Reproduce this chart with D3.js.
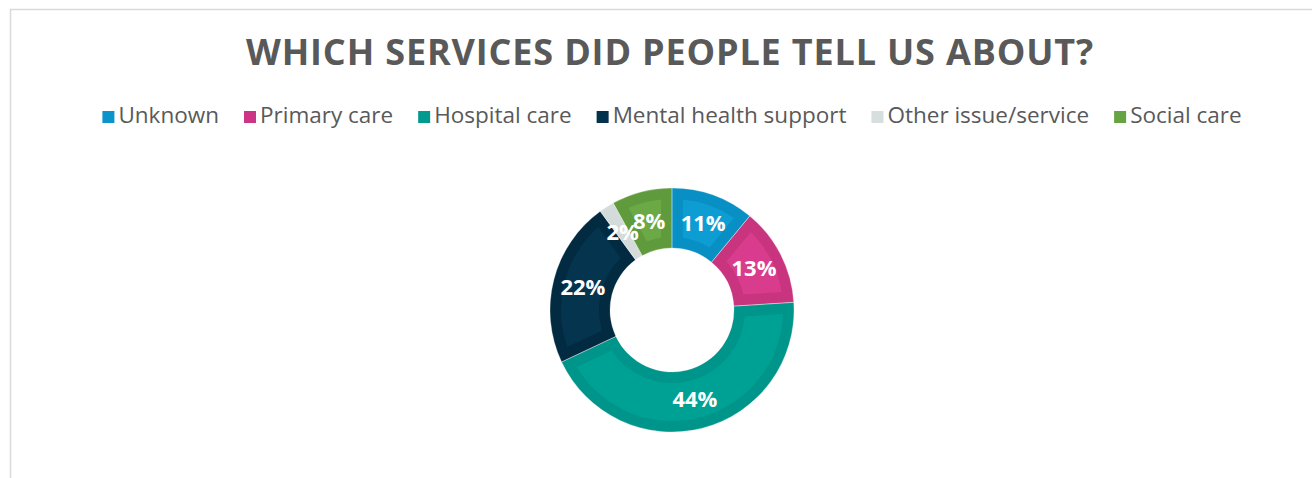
<!DOCTYPE html>
<html>
<head>
<meta charset="utf-8">
<script src="https://cdn.jsdelivr.net/npm/d3@7"></script>
<style>
  html, body { margin: 0; padding: 0; background: #ffffff; }
  svg { display: block; }
</style>
</head>
<body>
<svg id="chart" width="1312" height="478"></svg>
<script>
// Share of feedback by service type (percent)
const categories = ["Unknown", "Primary care", "Hospital care", "Mental health support", "Other issue/service", "Social care"];
const values = [11, 13, 44, 22, 2, 8];
const labels = ["11%", "13%", "44%", "22%", "2%", "8%"];
const edgeColors = ["#0890c5", "#c9347f", "#00958a", "#022a41", "#d3dbdb", "#5f9b3c"];
const fillColors = ["#0d9dd3", "#d93b8d", "#00a195", "#05344f", "#d7dede", "#6aa946"];
const legendColors = ["#0a94cb", "#cc3584", "#009a8e", "#03324c", "#d7dede", "#65a343"];
const titleText = "WHICH SERVICES DID PEOPLE TELL US ABOUT?";

const svg = d3.select("#chart");

// chart frame
svg.append("rect")
  .attr("x", 10.5).attr("y", 9.5)
  .attr("width", 1400).attr("height", 600)
  .attr("fill", "#ffffff")
  .attr("stroke", "#d9d9d9").attr("stroke-width", 1.5);

// title
const title = svg.append("text")
  .attr("x", 670).attr("y", 65)
  .attr("text-anchor", "middle")
  .attr("font-family", "'Open Sans', sans-serif")
  .attr("font-weight", 700)
  .attr("font-size", 36)
  .attr("fill", "#595959")
  .text(titleText);
const tw = title.node().getComputedTextLength();
const targetW = 847;
title.attr("letter-spacing", (targetW - tw) / (titleText.length - 1));

// legend
const legend = svg.append("g");
const gap = 25, sw = 12, sg = 4;
let lx = 0;
categories.forEach((c, i) => {
  const g = legend.append("g").attr("transform", `translate(${lx},0)`);
  g.append("rect").attr("x", 0).attr("y", -12).attr("width", sw).attr("height", sw)
    .attr("fill", legendColors[i]);
  const t = g.append("text").attr("x", sw + sg).attr("y", 0)
    .attr("font-family", "'Open Sans', sans-serif")
    .attr("font-size", 22.5)
    .attr("fill", "#595959")
    .text(c);
  lx += sw + sg + t.node().getComputedTextLength() + gap;
});
const legendW = lx - gap;
legend.attr("transform", `translate(${672 - legendW / 2},123)`);

// donut
const cx = 672, cy = 310, rOuter = 122, rInner = 62, band = 11;
const pie = d3.pie().sort(null).value(d => d);
const arcs = pie(values);
const g = svg.append("g").attr("transform", `translate(${cx},${cy})`);

const outerArc = d3.arc().innerRadius(rInner).outerRadius(rOuter);
const innerArc = d3.arc()
  .innerRadius(rInner + band).outerRadius(rOuter - band)
  .padRadius(100).padAngle(2 * band / 100);

g.selectAll("path.edge").data(arcs).join("path")
  .attr("class", "edge")
  .attr("d", outerArc)
  .attr("fill", (d, i) => edgeColors[i]);

g.selectAll("path.face").data(arcs).join("path")
  .attr("class", "face")
  .attr("d", innerArc)
  .attr("fill", (d, i) => fillColors[i]);

// slice separators
g.selectAll("path.sep").data(arcs).join("path")
  .attr("class", "sep")
  .attr("d", outerArc)
  .attr("fill", "none")
  .attr("stroke", "#ffffff").attr("stroke-width", 0.6).attr("stroke-opacity", 0.5);

const labelArc = d3.arc().innerRadius((rInner + rOuter) / 2).outerRadius((rInner + rOuter) / 2);
g.selectAll("text.lbl").data(arcs).join("text")
  .attr("class", "lbl")
  .attr("transform", d => `translate(${labelArc.centroid(d)})`)
  .attr("text-anchor", "middle")
  .attr("dy", "0.36em")
  .attr("font-family", "'Open Sans', sans-serif")
  .attr("font-weight", 700)
  .attr("font-size", 22)
  .attr("fill", "#ffffff")
  .text((d, i) => labels[i]);
</script>
</body>
</html>
